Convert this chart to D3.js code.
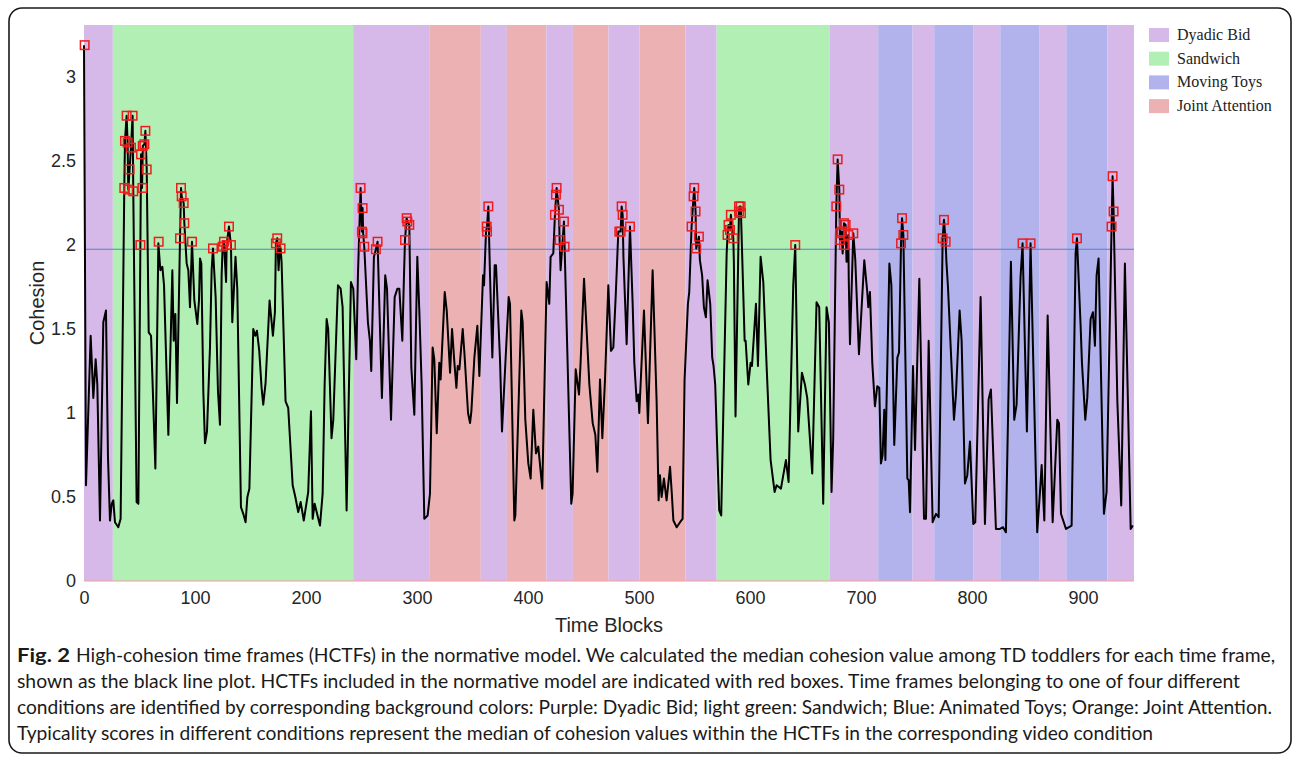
<!DOCTYPE html>
<html>
<head>
<meta charset="utf-8">
<script src="https://cdn.jsdelivr.net/npm/d3@7"></script>
<style>
  body { margin: 0; background: #fff; }
  svg { display: block; }
</style>
</head>
<body>
<div id="chart"></div>
<script>
// condition blocks along the time axis
var conditions = ["Dyadic Bid", "Sandwich", "Moving Toys", "Joint Attention"];
var blockStart = [0, 26, 242.5, 311, 357.5, 381, 416.5, 440.5, 472.5, 500.5, 542, 570, 672, 715.5, 746.5, 766, 801.5, 825.5, 861, 885, 922];
var blockEnd   = [26, 242.5, 311, 357.5, 381, 416.5, 440.5, 472.5, 500.5, 542, 570, 672, 715.5, 746.5, 766, 801.5, 825.5, 861, 885, 922, 946];
var blockCondition = ["Dyadic Bid", "Sandwich", "Dyadic Bid", "Joint Attention", "Dyadic Bid", "Joint Attention", "Dyadic Bid",
  "Joint Attention", "Dyadic Bid", "Joint Attention", "Dyadic Bid", "Sandwich", "Dyadic Bid", "Moving Toys", "Dyadic Bid",
  "Moving Toys", "Dyadic Bid", "Moving Toys", "Dyadic Bid", "Moving Toys", "Dyadic Bid"];

// median cohesion (vertices of the line)
var cohesion = [
  [0,3.19],[1.8,0.57],[6,1.46],[8.4,1.09],[10.5,1.32],[12,1.17],[14.4,0.36],[17.4,1.54],[19.8,1.61],[21.6,0.74],
  [23.4,0.36],[25,0.46],[26.4,0.48],[27.9,0.35],[30.9,0.32],[33,0.37],[36.3,2.34],[36.9,2.62],[38.4,2.77],[39.3,2.61],
  [39.9,2.33],[41.1,2.45],[42.3,2.58],[43.8,2.77],[44.4,2.32],[47.4,0.47],[49,0.46],[50.8,2.0],[51.4,2.54],[52.3,2.34],
  [53,2.59],[54.4,2.6],[55.3,2.68],[56.5,2.45],[58.3,1.48],[60.4,1.46],[64.3,0.67],[67,2.01],[68.8,1.85],[70.6,1.87],
  [72.1,1.76],[76,0.87],[79.6,1.85],[80.8,1.43],[82.3,1.59],[83.8,1.06],[86.5,2.04],[87.4,2.34],[88,2.29],[89.8,2.25],
  [90.4,2.13],[92.5,1.89],[94,1.85],[95.5,1.63],[97.3,2.02],[99.4,1.67],[100.6,1.61],[102.1,1.53],[103.6,1.67],[104.5,1.92],
  [105.7,1.89],[107.5,1.13],[109,0.82],[110.8,0.89],[113.5,1.39],[115,1.85],[116.2,1.98],[118.6,1.69],[120.7,1.13],[122.5,0.93],
  [124,1.82],[124.9,1.99],[126.1,2.02],[127,1.9],[128,1.78],[128.5,2.0],[130.6,2.11],[132.4,2.0],[133.6,1.54],[136.5,1.93],
  [138.1,1.74],[141.4,0.44],[143.5,0.4],[145.6,0.35],[147.2,0.5],[149,0.55],[152.5,1.5],[154.3,1.46],[155.8,1.49],[157.9,1.37],
  [160,1.15],[161.5,1.05],[163.6,1.18],[167.2,1.67],[170.2,1.46],[172,1.6],[172.9,2.01],[174.1,2.04],[175.3,1.85],[176.5,2.0],
  [177.1,1.98],[178,1.9],[181.6,1.07],[184,1.03],[188,0.57],[190.4,0.5],[193,0.41],[195.2,0.47],[198,0.36],[202,0.53],
  [204.5,1.01],[206,0.37],[207.8,0.46],[212.6,0.33],[215,0.52],[216.8,1.17],[218.6,1.56],[220,1.5],[223,0.85],[224.6,0.96],
  [228.8,1.76],[231.2,1.74],[233,1.63],[236.6,0.42],[240.5,1.78],[242.6,1.74],[245.3,1.32],[246.8,1.82],[249.2,2.34],[250.4,2.08],
  [251,2.22],[251.5,2.07],[252.5,1.99],[255.8,1.54],[257.6,1.43],[258.8,1.25],[261.2,1.93],[263,1.975],[264.5,2.02],[268.4,1.09],
  [271.4,1.82],[273,1.74],[276.6,0.96],[279.9,1.69],[282.3,1.74],[284.1,1.74],[285.3,1.6],[286.8,1.43],[288.3,1.82],[289.2,2.03],
  [290.7,2.16],[291.3,2.14],[293.1,2.12],[294.9,1.27],[297.6,0.99],[300.3,1.93],[302.1,1.61],[304.2,1.17],[306.6,0.37],[309.6,0.39],
  [311.7,0.52],[314.1,1.39],[315.6,1.32],[317.8,0.88],[320.1,1.3],[321.3,1.2],[325,1.72],[326.8,1.61],[329.8,1.24],[331.6,1.5],
  [333.7,1.3],[335.5,1.15],[336.7,1.28],[338.2,1.26],[341.2,1.5],[342.7,1.36],[346,1.0],[347.8,0.94],[349,1.01],[351.7,1.33],
  [354.4,1.52],[356.2,1.22],[359.5,1.82],[360.4,1.76],[362.2,2.08],[363.1,2.11],[364.3,2.23],[365.8,1.82],[367.9,1.33],[370,1.88],
  [371.2,1.88],[374.8,1.32],[376.6,0.89],[382.6,1.69],[383.8,1.65],[387.7,0.36],[388.6,0.39],[394,1.61],[395.2,1.54],[397.6,0.96],
  [400.3,0.7],[402.4,0.61],[404.8,1.02],[407.2,0.76],[409.3,0.8],[412.9,0.55],[416.8,1.78],[419.2,1.65],[420.4,1.93],[422.8,1.95],
  [424.3,2.18],[425.8,2.34],[427.9,2.21],[428.5,2.03],[429.4,1.85],[432.4,2.14],[433,1.99],[439,0.46],[440.2,0.52],[443,1.26],
  [446,1.11],[447.4,1.3],[450.5,1.8],[455.3,1.17],[458.3,0.94],[460.7,0.87],[462.5,0.65],[464.9,1.2],[467,0.85],[469.4,1.2],
  [472.4,1.76],[474.8,1.37],[476.9,1.39],[479,1.69],[481.4,2.08],[482.3,2.08],[483.5,2.08],[484.4,2.23],[485.3,2.18],[486,1.93],
  [488.9,1.41],[491,1.9],[491.9,2.11],[494.3,1.65],[495.8,1.3],[497.9,1.07],[499.4,1.11],[500.3,1.0],[504.5,1.61],[508.1,0.94],
  [512.3,1.85],[515.9,1.07],[517.7,0.48],[518.9,0.63],[520.4,0.5],[522.5,0.61],[524.9,0.48],[528,0.68],[529.5,0.53],[531,0.36],
  [534,0.32],[537,0.35],[539.3,0.37],[541.1,1.2],[544.1,1.65],[545.3,1.72],[547.4,2.11],[549.2,2.29],[549.8,2.34],[551,2.2],
  [551.6,1.98],[554,2.05],[554.9,1.91],[556.9,1.82],[558.5,1.63],[560.3,1.57],[561.8,1.79],[564.2,1.65],[566,1.33],[567.2,1.28],
  [568.7,1.17],[572.3,0.42],[574.1,0.39],[576.5,1.17],[579,1.95],[579.8,2.06],[580.7,2.12],[582,2.09],[582.8,2.18],[585,2.04],
  [585.5,1.9],[587,0.98],[590.1,2.2],[590.6,2.23],[591.6,2.23],[591.9,2.19],[595.2,1.43],[596.1,1.43],[598.5,1.17],[600.6,1.3],
  [601.8,1.28],[605.4,1.65],[607.2,1.28],[609.6,1.93],[612,1.78],[615,1.28],[618.6,0.72],[622.2,0.53],[624,0.57],[627.9,0.55],
  [632.4,0.72],[634.8,0.59],[639,1.76],[640.8,2.0],[643.5,0.89],[646.8,1.24],[649.5,1.17],[651.6,1.09],[656.1,0.64],[660,1.66],
  [662.4,1.63],[666,0.46],[669,1.63],[671.1,1.54],[673.5,0.53],[675,0.85],[677.8,2.23],[679,2.51],[680.5,2.33],[681.1,2.03],
  [682.6,2.08],[683.5,1.95],[684.7,2.13],[686.2,2.12],[687,1.9],[688.6,2.06],[689,1.8],[690.1,1.41],[693.1,2.07],[694.9,1.91],
  [698.2,1.35],[699.7,1.52],[703,1.91],[705.7,1.72],[706.6,1.63],[708.1,1.72],[710.2,1.3],[712.6,1.04],[714.7,1.16],[716.5,1.15],
  [718,0.7],[719.5,0.75],[721,1.02],[722,0.72],[725.6,1.89],[727.4,1.76],[730,0.81],[732.8,1.33],[734.3,1.36],[736.1,2.01],
  [737,2.16],[738.2,2.06],[741.8,0.61],[743,0.6],[744.2,0.41],[746.9,1.28],[748.7,0.78],[752.6,1.8],[756.8,0.37],[758.6,0.37],
  [761,1.43],[764.6,0.35],[767.6,0.4],[770,0.38],[773.6,2.04],[774.8,2.15],[776.3,2.02],[777,1.9],[778.4,1.75],[783.8,0.96],
  [785.6,1.11],[788.9,1.61],[790.7,1.43],[793.7,0.58],[795.8,0.63],[798.2,0.83],[801.2,0.34],[803,0.35],[807.8,1.69],[811.7,0.34],
  [815,1.08],[817.1,1.14],[821.6,0.31],[825.2,0.31],[828,0.32],[830.6,0.29],[835.1,1.9],[838.1,0.96],[840.2,1.05],[843.8,1.81],
  [845.6,2.01],[849.5,0.89],[852.8,2.01],[858.8,0.29],[861.2,0.52],[862.8,0.69],[865.2,0.36],[868.2,1.58],[872.7,0.35],[876.9,0.96],
  [878.4,0.94],[880.2,0.4],[884.7,0.31],[889.8,0.33],[893.4,1.95],[894.6,2.04],[897.9,1.52],[899.1,1.3],[902.1,0.96],[903.9,1.09],
  [906.9,1.56],[909,1.6],[910.8,1.4],[912.3,1.82],[914.1,1.92],[918.9,0.4],[921.3,0.53],[925.8,2.11],[926.7,2.41],[927.6,2.2],
  [931,1.07],[934.5,0.45],[937.8,1.89],[943,0.31],[945,0.33]
];

// high-cohesion time frames (red boxes)
var hctf = [
  [0.6,3.19],[36.3,2.34],[36.9,2.62],[38.4,2.77],[39.3,2.61],[39.9,2.33],[41.1,2.45],[42.3,2.58],[43.8,2.77],[44.4,2.32],
  [50.8,2.0],[51.4,2.54],[52.6,2.34],[52.9,2.59],[54.4,2.6],[55.3,2.68],[56.5,2.45],[67.3,2.02],[86.5,2.04],[87.4,2.34],
  [88,2.29],[89.8,2.25],[90.4,2.13],[97.3,2.02],[116.2,1.98],[124.9,1.99],[126.1,2.02],[128.5,2.0],[130.6,2.11],[132.4,2.0],
  [172.9,2.01],[174.1,2.04],[177.1,1.98],[249.2,2.34],[250.4,2.08],[250.9,2.07],[251,2.22],[252.5,1.99],[263,1.975],[264.5,2.02],
  [289.2,2.03],[290.7,2.16],[291.3,2.14],[293.1,2.12],[362.8,2.11],[363.1,2.08],[364.3,2.23],
  [424.3,2.18],[425.2,2.3],[425.8,2.34],[427.9,2.21],[428.5,2.03],[432.4,2.14],[433,1.99],
  [482.3,2.08],[483.5,2.08],[484.4,2.23],[485.3,2.18],[491.9,2.11],
  [547.4,2.11],[549.2,2.29],[549.8,2.34],[551,2.2],[551.6,1.98],[554,2.05],
  [579.8,2.06],[580.7,2.12],[582,2.09],[582.8,2.18],[585,2.04],[590.1,2.23],[591.6,2.23],[590.1,2.2],[591.9,2.19],[640.8,2.0],
  [677.8,2.23],[679,2.51],[680.5,2.33],[681.1,2.07],[681.1,2.03],[682.6,2.08],[684.7,2.13],[684.7,2.0],[686.2,2.12],[688.6,2.06],[693.1,2.07],
  [736.1,2.01],[737,2.16],[738.2,2.06],[773.6,2.04],[774.8,2.15],[776.3,2.02],
  [845.6,2.01],[852.8,2.01],[894.6,2.04],[925.8,2.11],[926.7,2.41],[927.6,2.2]
];

var medianCohesion = 1.975;
var xTicks = [0, 100, 200, 300, 400, 500, 600, 700, 800, 900];
var yTicks = [0, 0.5, 1, 1.5, 2, 2.5, 3];

var captionBold = "Fig. 2";
var captionLines = [
  "High-cohesion time frames (HCTFs) in the normative model. We calculated the median cohesion value among TD toddlers for each time frame,",
  "shown as the black line plot. HCTFs included in the normative model are indicated with red boxes. Time frames belonging to one of four different",
  "conditions are identified by corresponding background colors: Purple: Dyadic Bid; light green: Sandwich; Blue: Animated Toys; Orange: Joint Attention.",
  "Typicality scores in different conditions represent the median of cohesion values within the HCTFs in the corresponding video condition"
];

// ---- drawing ----
var W = 1295, H = 757;
var colour = d3.scaleOrdinal()
  .domain(conditions)
  .range(["#d6b9e8", "#b2efb4", "#b2b2ec", "#ecb2b3"]);

var svg = d3.select("#chart").append("svg")
  .attr("width", W)
  .attr("height", H);

// outer frame
svg.append("rect")
  .attr("x", 9).attr("y", 8)
  .attr("width", 1282).attr("height", 745)
  .attr("rx", 13)
  .attr("fill", "none")
  .attr("stroke", "#1a1a1a")
  .attr("stroke-width", 1.6);

var x = d3.scaleLinear().domain([0, 946]).range([84, 1134]);
var y = d3.scaleLinear().domain([0, 3.31]).range([581, 25]);

// background condition blocks
svg.append("g").selectAll("rect")
  .data(blockStart)
  .enter().append("rect")
    .attr("x", function(d) { return x(d); })
    .attr("y", y(3.31))
    .attr("width", function(d, i) { return x(blockEnd[i]) - x(d); })
    .attr("height", y(0) - y(3.31))
    .attr("fill", function(d, i) { return colour(blockCondition[i]); });

// faint baseline
svg.append("line")
  .attr("x1", x(0)).attr("x2", x(946))
  .attr("y1", y(0)).attr("y2", y(0))
  .attr("stroke", "#f2a0a0")
  .attr("stroke-width", 1.2);

// median line
svg.append("line")
  .attr("x1", x(0)).attr("x2", x(946))
  .attr("y1", y(medianCohesion)).attr("y2", y(medianCohesion))
  .attr("stroke", "#4a86c8")
  .attr("stroke-width", 1.2);

// cohesion line
var line = d3.line()
  .x(function(d) { return x(d[0]); })
  .y(function(d) { return y(d[1]); });

svg.append("path")
  .datum(cohesion)
  .attr("d", line)
  .attr("fill", "none")
  .attr("stroke", "#000")
  .attr("stroke-width", 2)
  .attr("stroke-linejoin", "round");

// red boxes
var box = 8.5;
svg.append("g").selectAll("rect")
  .data(hctf)
  .enter().append("rect")
    .attr("x", function(d) { return x(d[0]) - box / 2; })
    .attr("y", function(d) { return y(d[1]) - box / 2; })
    .attr("width", box)
    .attr("height", box)
    .attr("fill", "none")
    .attr("stroke", "#ee1c1c")
    .attr("stroke-width", 1.5);

// axes (labels only)
var xAxis = svg.append("g")
  .attr("transform", "translate(0," + y(0) + ")")
  .call(d3.axisBottom(x).tickValues(xTicks).tickSize(0).tickPadding(10));
var yAxis = svg.append("g")
  .attr("transform", "translate(" + x(0) + ",0)")
  .call(d3.axisLeft(y).tickValues(yTicks).tickSize(0).tickPadding(8).tickFormat(d3.format("")));
[xAxis, yAxis].forEach(function(a) {
  a.select(".domain").remove();
  a.selectAll("text")
    .attr("font-family", "'Liberation Sans', Arial, sans-serif")
    .attr("font-size", 18)
    .attr("fill", "#262626");
});

svg.append("text")
  .attr("x", 609).attr("y", 632)
  .attr("text-anchor", "middle")
  .attr("font-family", "'Liberation Sans', Arial, sans-serif")
  .attr("font-size", 20)
  .attr("fill", "#262626")
  .text("Time Blocks");

svg.append("text")
  .attr("transform", "translate(44,303) rotate(-90)")
  .attr("text-anchor", "middle")
  .attr("font-family", "'Liberation Sans', Arial, sans-serif")
  .attr("font-size", 20)
  .attr("fill", "#262626")
  .text("Cohesion");

// legend
var legend = svg.append("g").selectAll("g")
  .data(conditions)
  .enter().append("g")
    .attr("transform", function(d, i) { return "translate(1149," + (28 + i * 23.7) + ")"; });
legend.append("rect")
  .attr("width", 20).attr("height", 14)
  .attr("fill", function(d) { return colour(d); });
legend.append("text")
  .attr("x", 28).attr("y", 12)
  .attr("font-family", "'Liberation Serif', 'DejaVu Serif', serif")
  .attr("font-size", 16)
  .attr("fill", "#222")
  .text(function(d) { return d; });

// caption
var capFont = "Lato, 'Open Sans', 'Liberation Sans', sans-serif";
var capStart = [76, 17, 17, 17];
var capEnd = [1275, 1240, 1272, 1153];
svg.append("text")
  .attr("x", 17).attr("y", 662)
  .attr("font-family", capFont)
  .attr("font-size", 19)
  .attr("font-weight", "bold")
  .attr("textLength", 53)
  .attr("lengthAdjust", "spacingAndGlyphs")
  .attr("fill", "#1a1a1a")
  .text(captionBold);
svg.append("g").selectAll("text")
  .data(captionLines)
  .enter().append("text")
    .attr("x", function(d, i) { return capStart[i]; })
    .attr("y", function(d, i) { return 662 + i * 26; })
    .attr("font-family", capFont)
    .attr("font-size", 19)
    .attr("textLength", function(d, i) { return capEnd[i] - capStart[i]; })
    .attr("lengthAdjust", "spacingAndGlyphs")
    .attr("fill", "#1a1a1a")
    .text(function(d) { return d; });
</script>
</body>
</html>
